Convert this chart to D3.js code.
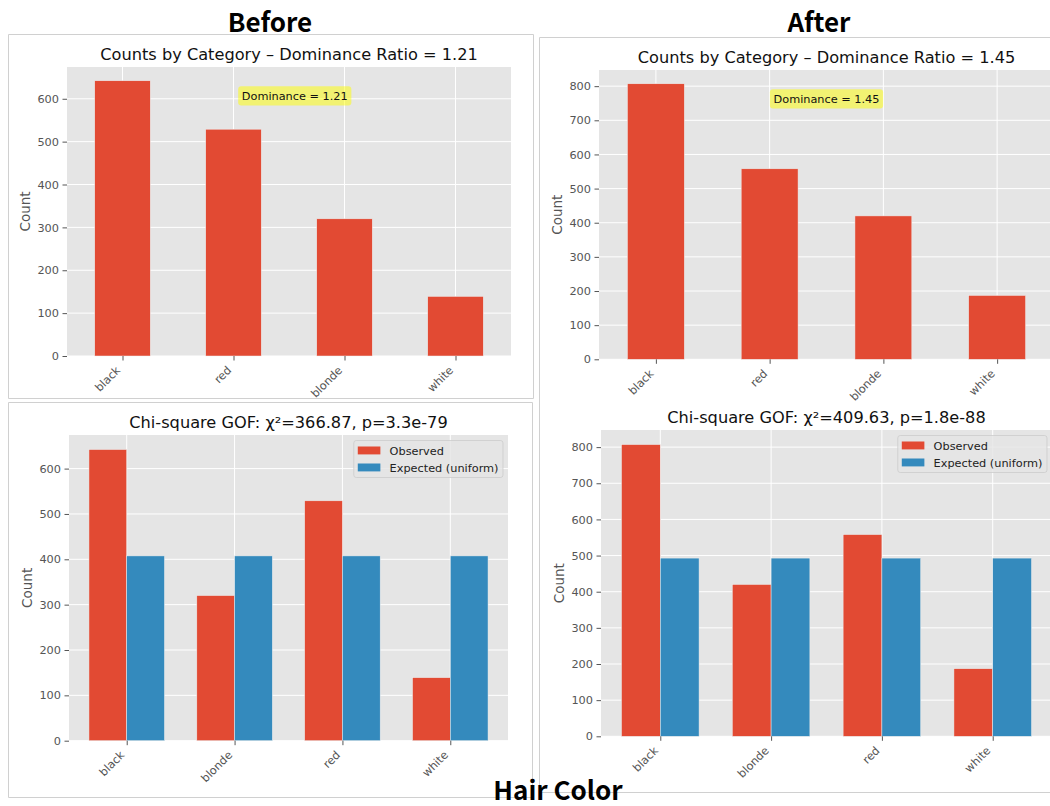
<!DOCTYPE html>
<html>
<head>
<meta charset="utf-8">
<script src="https://cdn.jsdelivr.net/npm/d3@7/dist/d3.min.js"></script>
<style>
  body { margin: 0; background: #ffffff; }
  svg { display: block; }
</style>
</head>
<body>
<svg id="fig" width="1050" height="806"></svg>
<script>
// ---- Hair colour counts, before and after ----
const beforeCategories = ["black", "red", "blonde", "white"];
const beforeCounts = [642, 529, 320, 139];
const afterCategories = ["black", "red", "blonde", "white"];
const afterCounts = [807, 558, 420, 187];

// Goodness-of-fit panels (alphabetical order)
const gofCategories = ["black", "blonde", "red", "white"];
const beforeObserved = [642, 320, 529, 139];
const beforeExpected = [407.5, 407.5, 407.5, 407.5];
const afterObserved = [807, 420, 558, 187];
const afterExpected = [493, 493, 493, 493];
const beforeGofTitle = "Chi-square GOF: \u03c7\u00b2=366.87, p=3.3e-79";
const afterGofTitle = "Chi-square GOF: \u03c7\u00b2=409.63, p=1.8e-88";

const beforeTicks = [0, 100, 200, 300, 400, 500, 600];
const afterTicks = [0, 100, 200, 300, 400, 500, 600, 700, 800];
const seriesNames = ["Observed", "Expected (uniform)"];

// ---- styling ----
const C_OBS = "#E24A33", C_EXP = "#348ABD";
const BG = "#E5E5E5", TICK = "#555555";
const FONT = "'DejaVu Sans', sans-serif";
const HEAD_FONT = "'Noto Sans CJK SC', 'Noto Sans', sans-serif";
const TICK_SIZE = 11.3, TITLE_SIZE = 16.2, LABEL_SIZE = 13.5;

const svg = d3.select("#fig");

// panel frames
const frames = svg.append("g").attr("fill", "none").attr("stroke", "#d0d0d0").attr("stroke-width", 1);
frames.append("path").attr("d", "M8.5,34.5H533.5V398.5H8.5Z");
frames.append("path").attr("d", "M8.5,402.5H532.5V797.5H8.5Z");
frames.append("path").attr("d", "M1051,37.5H539.5V792.5H1051");

function ratioText(counts) {
  return (counts[0] / counts[1]).toFixed(2);
}

function drawFrame(g, box, x, y, xTickVals, xLabels, yTicks, ylabel, title) {
  g.append("rect")
    .attr("x", box.x0).attr("y", box.y0)
    .attr("width", box.x1 - box.x0).attr("height", box.y1 - box.y0)
    .attr("fill", BG);

  const grid = g.append("g").attr("stroke", "#ffffff").attr("stroke-width", 1);
  grid.selectAll(".gy").data(yTicks).join("line")
    .attr("x1", box.x0).attr("x2", box.x1)
    .attr("y1", d => y(d)).attr("y2", d => y(d));
  grid.selectAll(".gx").data(xTickVals).join("line")
    .attr("y1", box.y0).attr("y2", box.y1)
    .attr("x1", d => x(d)).attr("x2", d => x(d));

  // title
  g.append("text")
    .attr("x", (box.x0 + box.x1) / 2).attr("y", box.y0 - 7.5)
    .attr("text-anchor", "middle")
    .attr("font-family", FONT).attr("font-size", TITLE_SIZE)
    .attr("fill", "#111").text(title);

  // y label
  g.append("text")
    .attr("transform", `translate(${box.x0 - 37},${(box.y0 + box.y1) / 2}) rotate(-90)`)
    .attr("text-anchor", "middle")
    .attr("font-family", FONT).attr("font-size", LABEL_SIZE)
    .attr("fill", TICK).text(ylabel);
}

function drawAxes(g, box, x, y, xTickVals, xLabels, yTicks) {
  const ya = g.append("g").attr("transform", `translate(${box.x0},0)`)
    .call(d3.axisLeft(y).tickValues(yTicks).tickSize(4.5).tickPadding(3.5));
  ya.select(".domain").remove();
  ya.selectAll("line").attr("stroke", TICK);
  ya.selectAll("text").attr("fill", TICK).attr("font-family", FONT).attr("font-size", TICK_SIZE);

  const xa = g.append("g").attr("transform", `translate(0,${box.y1})`)
    .call(d3.axisBottom(x).tickValues(xTickVals).tickFormat((d, i) => xLabels[i]).tickSize(4.5));
  xa.select(".domain").remove();
  xa.selectAll("line").attr("stroke", TICK);
  xa.selectAll("text")
    .attr("fill", TICK).attr("font-family", FONT).attr("font-size", TICK_SIZE)
    .attr("y", 0).attr("dy", 0)
    .attr("text-anchor", "end")
    .attr("transform", "translate(-2,15) rotate(-45)");
}

// single-series count chart with dominance annotation
function countPanel(box, cats, counts, yTicks, annoX) {
  const g = svg.append("g");
  const idx = cats.map((_, i) => i);
  const x = d3.scaleLinear().domain([-0.5, cats.length - 0.5]).range([box.x0, box.x1]);
  const y = d3.scaleLinear().domain([0, d3.max(counts) * 1.05]).range([box.y1, box.y0]);
  const ratio = ratioText(counts);

  drawFrame(g, box, x, y, idx, cats, yTicks, "Count",
    "Counts by Category \u2013 Dominance Ratio = " + ratio);

  g.append("g").selectAll("rect").data(counts).join("rect")
    .attr("x", (d, i) => x(i - 0.25))
    .attr("width", (d, i) => x(i + 0.25) - x(i - 0.25))
    .attr("y", d => y(d))
    .attr("height", d => y(0) - y(d))
    .attr("fill", C_OBS).attr("stroke", "#EEEEEE").attr("stroke-width", 0.5);

  drawAxes(g, box, x, y, idx, cats, yTicks);

  // annotation box
  const ax = box.x0 + annoX * (box.x1 - box.x0);
  const ay = box.y1 - 0.9 * (box.y1 - box.y0);
  const anno = g.append("g");
  const t = anno.append("text")
    .attr("x", ax).attr("y", ay).attr("dy", "0.36em")
    .attr("text-anchor", "middle")
    .attr("font-family", FONT).attr("font-size", TICK_SIZE)
    .attr("fill", "#111").text("Dominance = " + ratio);
  const w = t.node().getComputedTextLength();
  anno.insert("rect", "text")
    .attr("x", ax - w / 2 - 3.6).attr("y", ay - 9.6)
    .attr("width", w + 7.2).attr("height", 19.2)
    .attr("rx", 3).attr("fill", "yellow").attr("fill-opacity", 0.5);
}

// observed vs expected grouped bars
function gofPanel(box, cats, observed, expected, yTicks, title) {
  const g = svg.append("g");
  const idx = cats.map((_, i) => i);
  const bw = 0.35;
  const x = d3.scaleLinear().domain([-0.535, cats.length - 1 + 0.535]).range([box.x0, box.x1]);
  const y = d3.scaleLinear().domain([0, d3.max(observed) * 1.05]).range([box.y1, box.y0]);

  drawFrame(g, box, x, y, idx, cats, yTicks, "Count", title);

  const series = [
    { vals: observed, off: -bw / 2, color: C_OBS },
    { vals: expected, off: bw / 2, color: C_EXP }
  ];
  series.forEach(s => {
    g.append("g").selectAll("rect").data(s.vals).join("rect")
      .attr("x", (d, i) => x(i + s.off - bw / 2))
      .attr("width", (d, i) => x(i + s.off + bw / 2) - x(i + s.off - bw / 2))
      .attr("y", d => y(d))
      .attr("height", d => y(0) - y(d))
      .attr("fill", s.color).attr("stroke", "#EEEEEE").attr("stroke-width", 0.5);
  });

  drawAxes(g, box, x, y, idx, cats, yTicks);

  // legend
  const lg = g.append("g");
  const labels = lg.selectAll("text").data(seriesNames).join("text")
    .attr("font-family", FONT).attr("font-size", TICK_SIZE)
    .attr("fill", "#222").text(d => d);
  const tw = d3.max(labels.nodes(), n => n.getComputedTextLength());
  const bwid = 4 + 22.6 + 9.2 + tw + 4.5;
  const bx = box.x1 - 5 - bwid, by = box.y0 + 5.5;
  lg.insert("rect", "text")
    .attr("x", bx).attr("y", by).attr("width", bwid).attr("height", 37)
    .attr("rx", 2.5)
    .attr("fill", BG).attr("fill-opacity", 0.8)
    .attr("stroke", "#cccccc").attr("stroke-opacity", 0.8);
  [C_OBS, C_EXP].forEach((c, i) => {
    lg.append("rect")
      .attr("x", bx + 4).attr("y", by + 6 + i * 17)
      .attr("width", 22.6).attr("height", 7.9).attr("fill", c);
  });
  labels.attr("x", bx + 4 + 22.6 + 9.2).attr("y", (d, i) => by + 10 + i * 17).attr("dy", "0.36em");
}

countPanel({ x0: 67, x1: 511, y0: 67, y1: 356 }, beforeCategories, beforeCounts, beforeTicks, 0.513);
countPanel({ x0: 599, x1: 1054, y0: 70, y1: 359.3 }, afterCategories, afterCounts, afterTicks, 0.5);
gofPanel({ x0: 69, x1: 508, y0: 435, y1: 740.7 }, gofCategories, beforeObserved, beforeExpected, beforeTicks, beforeGofTitle);
gofPanel({ x0: 601, x1: 1052, y0: 430, y1: 736.3 }, gofCategories, afterObserved, afterExpected, afterTicks, afterGofTitle);

// headings
const heads = [
  { text: "Before", x: 270, y: 32 },
  { text: "After", x: 819, y: 32 },
  { text: "Hair Color", x: 558, y: 800 }
];
svg.append("g").selectAll("text").data(heads).join("text")
  .attr("x", d => d.x).attr("y", d => d.y)
  .attr("text-anchor", "middle")
  .attr("font-family", HEAD_FONT).attr("font-weight", 700)
  .attr("font-size", 26).attr("fill", "#000")
  .text(d => d.text);
</script>
</body>
</html>
